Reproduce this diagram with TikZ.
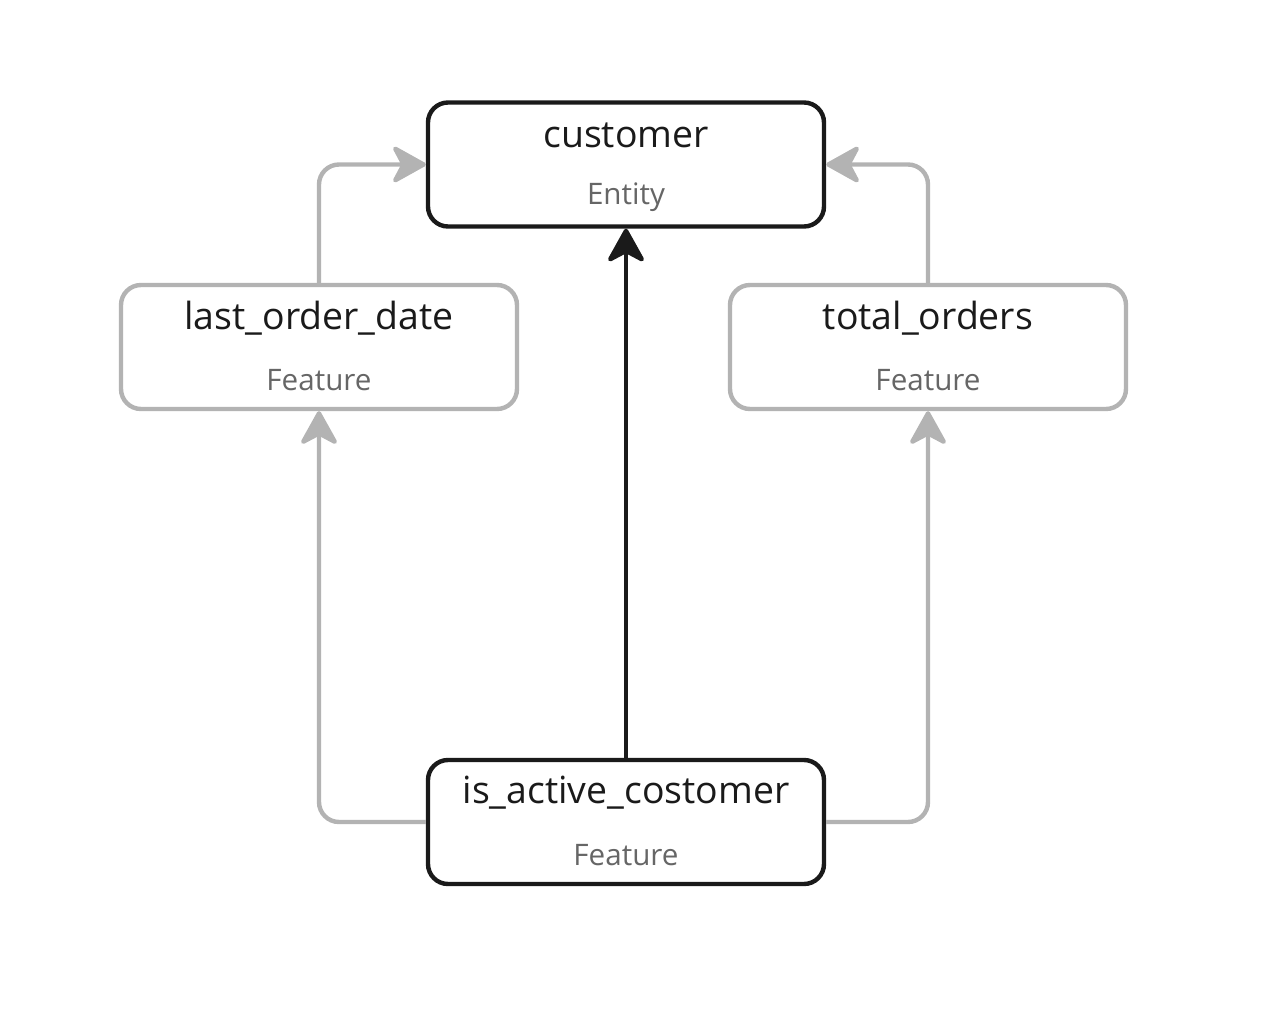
\documentclass[tikz,border=0pt]{standalone}
\usepackage{fontspec}
\setmainfont{Open Sans}
\usepackage{xcolor}
\usetikzlibrary{positioning}
\usetikzlibrary{arrows.meta}
\usetikzlibrary{calc}
\definecolor{ink}{HTML}{1A1A1A}
\definecolor{soft}{HTML}{B3B3B3}
\definecolor{kindgray}{HTML}{666666}
\tikzset{
  % A box for an entity or a feature
  nodebox/.style={
    draw=#1, fill=white, rectangle, rounded corners=10pt, line width=2.2pt,
    minimum width=198pt, minimum height=62pt, inner sep=0pt},
  % Box texts
  ttl/.style={font=\fontsize{18.7}{22}\selectfont, text=ink, inner sep=0pt},
  kind/.style={font=\fontsize{14.8}{18}\selectfont, text=kindgray, inner sep=0pt},
  % Dependencies
  dep/.style={-{Stealth[length=19pt, width=21pt, inset=5.5pt, round]}, line width=2.2pt, draw=soft, rounded corners=10pt},
  main/.style={-{Stealth[length=19pt, width=21pt, inset=5.5pt, round]}, line width=2.2pt, draw=ink},
}
\newcommand{\featbox}[6]{%
  \node[nodebox=#6] (#3) at (#1,#2) {};
  \node[ttl] at ($(#3.center)+(0,-29)$) {#4};
  \node[kind] at ($(#3.center)+(0,33)$) {#5};}

\begin{document}
\begin{tikzpicture}[x=0.5pt, y=-0.5pt]
  \useasboundingbox (0,0) rectangle (1270,1028);

  \featbox{626}{164.5}{cust}{customer}{Entity}{ink}
  \featbox{319}{347}{lod}{last\_order\_date}{Feature}{soft}
  \featbox{928}{347}{tot}{total\_orders}{Feature}{soft}
  \featbox{626}{822}{act}{is\_active\_costomer}{Feature}{ink}

  \draw[dep] (lod.north) |- (cust.west);
  \draw[dep] (tot.north) |- (cust.east);
  \draw[dep] (act.west) -| (lod.south);
  \draw[dep] (act.east) -| (tot.south);
  \draw[main] (act.north) -- (cust.south);

\end{tikzpicture}
\end{document}
